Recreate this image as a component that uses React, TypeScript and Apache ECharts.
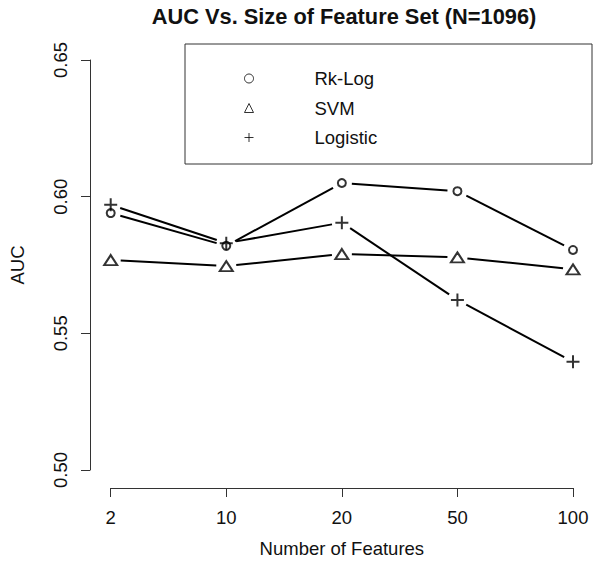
import React, { useEffect, useRef } from 'react';
import * as echarts from 'echarts';

const featureCounts = ['2', '10', '20', '50', '100'];
const rkLogAuc = [0.594, 0.582, 0.605, 0.602, 0.5805];
const svmAuc = [0.5768, 0.5746, 0.579, 0.5778, 0.5734];
const logisticAuc = [0.597, 0.583, 0.5905, 0.5622, 0.5396];
const seriesNames = ['Rk-Log', 'SVM', 'Logistic'];
const yMin = 0.5;
const yMax = 0.65;
const yStep = 0.05;

const PLUS = 'path://M0,6H12M6,0V12';

function segments(values: number[]) {
  const out: number[][] = [];
  for (let i = 0; i < values.length - 1; i++) out.push([i, values[i], values[i + 1]]);
  return out;
}

function gapLine(params: any, api: any) {
  const i = api.value(0);
  const a = api.coord([i, api.value(1)]);
  const b = api.coord([i + 1, api.value(2)]);
  const dx = b[0] - a[0];
  const dy = b[1] - a[1];
  const len = Math.sqrt(dx * dx + dy * dy);
  const gap = 10;
  const ux = dx / len;
  const uy = dy / len;
  return {
    type: 'line',
    shape: { x1: a[0] + ux * gap, y1: a[1] + uy * gap, x2: b[0] - ux * gap, y2: b[1] - uy * gap },
    style: { stroke: '#000', lineWidth: 2 },
  };
}

export default function App() {
  const ref = useRef<HTMLDivElement>(null);
  useEffect(() => {
    document.body.style.margin = '0';
    if (!ref.current) return;
    const chart = echarts.init(ref.current, undefined, { renderer: 'svg' });
    const font = 'Liberation Sans, Arial, sans-serif';
    const fs = 18.5;
    const allValues = [rkLogAuc, svmAuc, logisticAuc];
    const symbols = ['circle', 'triangle', PLUS];
    const sizes: any[] = [8, [13, 10], 13];
    const series: any[] = [];
    allValues.forEach((vals, k) => {
      series.push({
        type: 'custom',
        name: seriesNames[k] + ' line',
        renderItem: gapLine,
        data: segments(vals),
        encode: { x: 0, y: 1 },
        silent: true,
      });
    });
    allValues.forEach((vals, k) => {
      series.push({
        type: 'scatter',
        name: seriesNames[k],
        symbol: symbols[k],
        symbolSize: sizes[k],
        data: vals.map((v, i) => [i, v]),
        itemStyle: { color: 'rgba(255,255,255,0)', borderColor: '#000', borderWidth: 2 },
      });
    });
    chart.setOption({
      animation: false,
      textStyle: { fontFamily: font },
      title: {
        text: 'AUC Vs. Size of Feature Set (N=1096)',
        left: 339,
        top: 0,
        textAlign: 'center',
        textStyle: { fontSize: 21.8, fontWeight: 'bold', color: '#111', fontFamily: font },
      },
      legend: {
        data: seriesNames,
        orient: 'vertical',
        left: 239,
        top: 64,
        itemWidth: 9,
        itemHeight: 9,
        itemGap: 10.5,
        itemStyle: { borderWidth: 1, borderColor: '#000', color: 'rgba(255,255,255,0)' },
        textStyle: { fontSize: fs, color: '#111', lineHeight: 18, padding: [0, 0, 0, 56], fontFamily: font },
      },
      graphic: [
        {
          type: 'rect',
          shape: { x: 185, y: 44, width: 407, height: 120 },
          style: { fill: 'none', stroke: '#333', lineWidth: 1 },
          z: 10,
        },
      ],
      grid: { left: 110.7, right: 29, top: 60, bottom: 93 },
      xAxis: {
        type: 'category',
        data: featureCounts,
        boundaryGap: false,
        offset: 18,
        name: 'Number of Features',
        nameLocation: 'middle',
        nameGap: 51,
        nameTextStyle: { fontSize: fs, color: '#111' },
        axisLine: { lineStyle: { color: '#333', width: 1 } },
        axisTick: { length: 9, alignWithLabel: true, lineStyle: { color: '#333' } },
        axisLabel: { fontSize: fs, color: '#111', margin: 20 },
        splitLine: { show: false },
      },
      yAxis: {
        type: 'value',
        min: yMin,
        max: yMax,
        interval: yStep,
        offset: 20.7,
        name: 'AUC',
        nameLocation: 'middle',
        nameGap: 63,
        nameTextStyle: { fontSize: fs, color: '#111' },
        axisLine: { show: true, lineStyle: { color: '#333', width: 1 } },
        axisTick: { show: true, length: 9, lineStyle: { color: '#333' } },
        axisLabel: { fontSize: fs, color: '#111', rotate: 90, margin: 20, formatter: (v: number) => v.toFixed(2) },
        splitLine: { show: false },
      },
      series,
    });
    return () => chart.dispose();
  }, []);
  return <div ref={ref} style={{ width: 602, height: 563 }} />;
}
